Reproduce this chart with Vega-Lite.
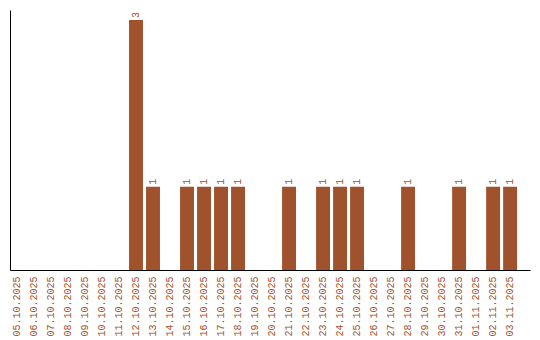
{
  "$schema": "https://vega.github.io/schema/vega-lite/v6.json",
  "width": 520,
  "height": 260,
  "autosize": {"type": "none"},
  "padding": {"left": 10, "top": 10, "right": 10, "bottom": 70},
  "background": "white",
  "config": {"view": {"stroke": null}},
  "data": {"values": [
    {"date": "05.10.2025", "count": 0},
    {"date": "06.10.2025", "count": 0},
    {"date": "07.10.2025", "count": 0},
    {"date": "08.10.2025", "count": 0},
    {"date": "09.10.2025", "count": 0},
    {"date": "10.10.2025", "count": 0},
    {"date": "11.10.2025", "count": 0},
    {"date": "12.10.2025", "count": 3},
    {"date": "13.10.2025", "count": 1},
    {"date": "14.10.2025", "count": 0},
    {"date": "15.10.2025", "count": 1},
    {"date": "16.10.2025", "count": 1},
    {"date": "17.10.2025", "count": 1},
    {"date": "18.10.2025", "count": 1},
    {"date": "19.10.2025", "count": 0},
    {"date": "20.10.2025", "count": 0},
    {"date": "21.10.2025", "count": 1},
    {"date": "22.10.2025", "count": 0},
    {"date": "23.10.2025", "count": 1},
    {"date": "24.10.2025", "count": 1},
    {"date": "25.10.2025", "count": 1},
    {"date": "26.10.2025", "count": 0},
    {"date": "27.10.2025", "count": 0},
    {"date": "28.10.2025", "count": 1},
    {"date": "29.10.2025", "count": 0},
    {"date": "30.10.2025", "count": 0},
    {"date": "31.10.2025", "count": 1},
    {"date": "01.11.2025", "count": 0},
    {"date": "02.11.2025", "count": 1},
    {"date": "03.11.2025", "count": 1}
  ]},
  "encoding": {
    "x": {
      "field": "date", "type": "ordinal", "sort": null,
      "scale": {"paddingInner": 0.18, "paddingOuter": 0.38, "align": 0},
      "axis": {
        "title": null, "labelAngle": -90, "labelColor": "#a0522d",
        "labelFont": "Liberation Mono", "labelFontSize": 10,
        "ticks": false, "labelPadding": 6, "domainColor": "#000000",
        "domainWidth": 1, "labelAlign": "right", "labelBaseline": "middle"
      }
    },
    "y": {
      "field": "count", "type": "quantitative",
      "scale": {"domain": [0, 3.12], "nice": false},
      "axis": {"title": null, "labels": false, "ticks": false, "grid": false, "domainColor": "#000000", "domainWidth": 1}
    }
  },
  "layer": [
    {"mark": {"type": "bar", "color": "#a0522d"}},
    {
      "transform": [{"filter": "datum.count > 0"}],
      "mark": {"type": "text", "angle": 270, "align": "left", "baseline": "middle", "dx": 2, "color": "#a0522d", "font": "Liberation Mono", "fontSize": 10},
      "encoding": {"text": {"field": "count", "type": "quantitative"}}
    }
  ]
}
